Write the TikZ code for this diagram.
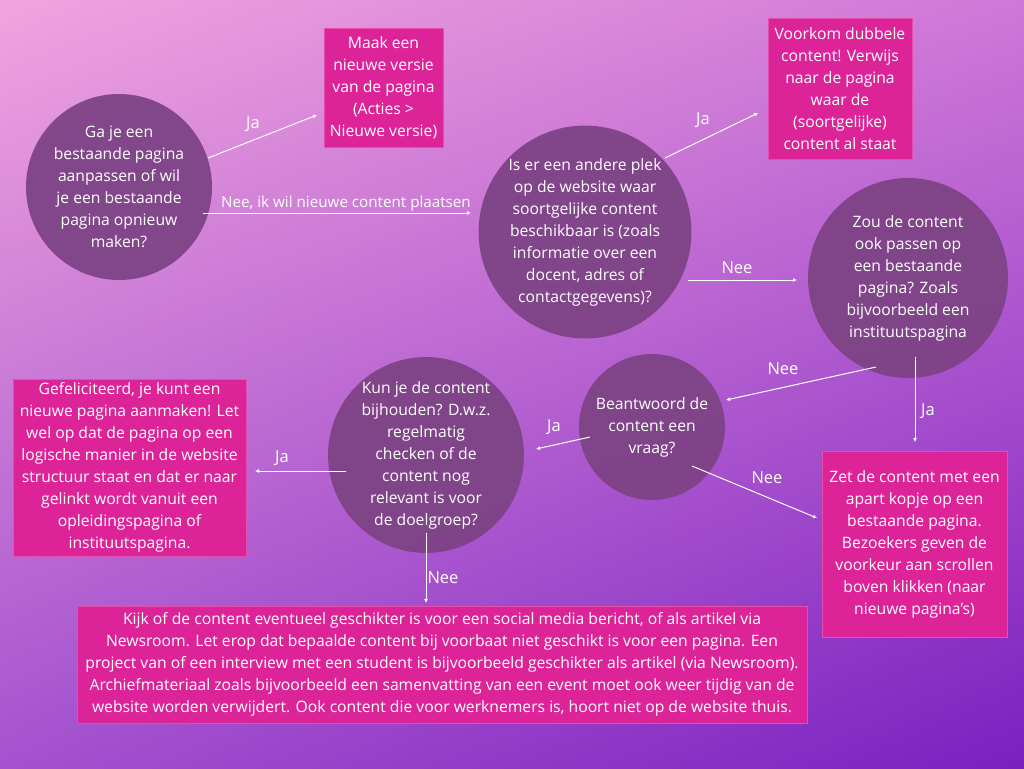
\documentclass[tikz,border=0pt]{standalone}
\usepackage{fontspec}
\setmainfont{Open Sans}
\usetikzlibrary{arrows.meta,calc,shadings}
\definecolor{bgTL}{HTML}{F0A4DE}
\definecolor{bgTR}{HTML}{CE78D8}
\definecolor{bgBL}{HTML}{A452CF}
\definecolor{bgBR}{HTML}{7A20C0}
\definecolor{circfill}{HTML}{7E4386}
\definecolor{boxfill}{HTML}{DD2398}
\tikzset{
  qcirc/.style={circle,fill=circfill,fill opacity=0.95,text opacity=1,inner sep=0pt,text=white,align=center,font=\fontsize{15.7}{22}\selectfont},
  abox/.style={rectangle,fill=boxfill,draw=boxfill!80!white,line width=0.6pt,inner sep=0pt,text=white,align=center,font=\fontsize{15.7}{22}\selectfont},
  conn/.style={draw=white,line width=1pt,-{Latex[length=4pt,width=4pt]}},
  lbl/.style={text=white,font=\fontsize{16.5}{18}\selectfont,inner sep=0pt}
}
\begin{document}
\begin{tikzpicture}[x=1pt,y=-1pt]
\shade[upper left=bgTL,upper right=bgTR,lower left=bgBL,lower right=bgBR] (0,0) rectangle (1024,768);
\useasboundingbox (0,0) rectangle (1024,768);

% circles
\node[qcirc,minimum size=186pt] (c1) at (119,187) {Ga je een\\bestaande pagina\\aanpassen of wil\\je een bestaande\\pagina opnieuw\\maken?};
\node[qcirc,minimum size=206pt] (c2) at (585,232) {Is er een andere plek\\op de website waar\\soortgelijke content\\beschikbaar is (zoals\\informatie over een\\docent, adres of\\contactgegevens)?};
\node[qcirc,minimum size=200pt] (c3) at (908,278) {Zou de content\\ook passen op\\een bestaande\\pagina? Zoals\\bijvoorbeeld een\\instituutspagina};
\node[qcirc,minimum size=146pt] (c4) at (652,427) {Beantwoord de\\content een\\vraag?};
\node[qcirc,minimum size=195pt] (c5) at (426,455) {Kun je de content\\bijhouden? D.w.z.\\regelmatig\\checken of de\\content nog\\relevant is voor\\de doelgroep?};

% boxes
\node[abox,minimum width=119pt,minimum height=119pt] (b1) at (383.5,87.5) {Maak een\\nieuwe versie\\van de pagina\\(Acties >\\Nieuwe versie)};
\node[abox,minimum width=144pt,minimum height=141pt] (b2) at (840,88.5) {Voorkom dubbele\\content! Verwijs\\naar de pagina\\waar de\\(soortgelijke)\\content al staat};
\node[abox,minimum width=185pt,minimum height=186pt] (b3) at (914.5,544) {Zet de content met een\\apart kopje op een\\bestaande pagina.\\Bezoekers geven de\\voorkeur aan scrollen\\boven klikken (naar\\nieuwe pagina's)};
\node[abox,minimum width=233pt,minimum height=177pt] (b4) at (129.5,467.5) {Gefeliciteerd, je kunt een\\nieuwe pagina aanmaken! Let\\wel op dat de pagina op een\\logische manier in de website\\structuur staat en dat er naar\\gelinkt wordt vanuit een\\opleidingspagina of\\instituutspagina.};
\node[abox,minimum width=730pt,minimum height=117pt] (b5) at (442,664.5) {Kijk of de content eventueel geschikter is voor een social media bericht, of als artikel via\\Newsroom. Let erop dat bepaalde content bij voorbaat niet geschikt is voor een pagina. Een\\project van of een interview met een student is bijvoorbeeld geschikter als artikel (via Newsroom).\\Archiefmateriaal zoals bijvoorbeeld een samenvatting van een event moet ook weer tijdig van de\\website worden verwijdert. Ook content die voor werknemers is, hoort niet op de website thuis.};

% connectors
\draw[conn] ($(c1)+(89,-29)$) -- ($(b1)+(-66.5,27.5)$);
\draw[conn] ($(c1)+(84,26)$) -- ($(c2)+(-114,-19)$);
\draw[conn] ($(c2)+(80,-74)$) -- ($(b2)+(-82,24.5)$);
\draw[conn] ($(c2)+(103,48)$) -- ($(c3)+(-111,2)$);
\draw[conn] ($(c3)+(-32,89)$) -- ($(c4)+(74,-27)$);
\draw[conn] ($(c3)+(7,79)$) -- ($(b3)+(0.5,-102)$);
\draw[conn] ($(c4)+(40,39)$) -- ($(b3)+(-97.5,-26)$);
\draw[conn] ($(c4)+(-62,10)$) -- ($(c5)+(110,-6)$);
\draw[conn] ($(c5)+(-80,16)$) -- ($(b4)+(125.5,3.5)$);
\draw[conn] ($(c5)+(0,78)$) -- ($(b5)+(-16,-61.5)$);

% labels
\node[lbl] (l1) at (253,124) {Ja};
\node[lbl,font=\fontsize{15.2}{16}\selectfont] (l2) at (346,204) {Nee, ik wil nieuwe content plaatsen};
\node[lbl] (l3) at (703,120) {Ja};
\node[lbl] (l4) at (737,268) {Nee};
\node[lbl] (l5) at (783,369) {Nee};
\node[lbl] (l6) at (928,411) {Ja};
\node[lbl] (l7) at (767,478) {Nee};
\node[lbl] (l8) at (554,427) {Ja};
\node[lbl] (l9) at (282,458) {Ja};
\node[lbl] (l10) at (443,578) {Nee};
\end{tikzpicture}
\end{document}
